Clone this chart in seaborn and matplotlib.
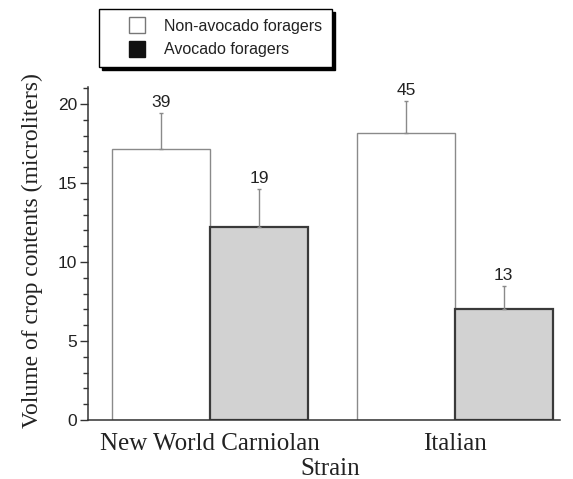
import numpy as np
import pandas as pd
import seaborn as sns
import matplotlib.pyplot as plt
from matplotlib.lines import Line2D
from matplotlib.ticker import MultipleLocator

# Crop volume (microliters) by honey bee strain and forager type
strains = ["New World Carniolan", "Italian"]
groups = ["Non-avocado foragers", "Avocado foragers"]
non_avocado_mean = [17.15, 18.15]
avocado_mean = [12.2, 7.0]
non_avocado_err = [2.28, 2.03]
avocado_err = [2.4, 1.5]
non_avocado_n = [39, 45]
avocado_n = [19, 13]

df = pd.DataFrame({
    "strain": strains * 2,
    "group": [groups[0]] * 2 + [groups[1]] * 2,
    "volume": non_avocado_mean + avocado_mean,
    "err": non_avocado_err + avocado_err,
    "n": non_avocado_n + avocado_n,
})

sns.set_style("ticks")
SERIF = ["Liberation Serif", "DejaVu Serif"]
SANS = ["Liberation Sans", "DejaVu Sans"]
plt.rcParams["font.family"] = SANS
TXT = "#222222"

fig = plt.figure(figsize=(5.73, 4.79), dpi=100)
ax = fig.add_axes([88 / 573, 1 - 420 / 479, 472 / 573, 333 / 479])

sns.barplot(
    data=df, x="strain", y="volume", hue="group", order=strains, hue_order=groups,
    palette={groups[0]: "white", groups[1]: "#d2d2d2"},
    errorbar=None, width=0.8, legend=False, ax=ax, zorder=2,
)

# Style each bar and add one-sided error bars plus sample sizes
bars = sorted(ax.patches, key=lambda p: p.get_x())
rows = []
for s in strains:
    for g in groups:
        rows.append(df[(df.strain == s) & (df.group == g)].iloc[0])
for bar, row in zip(bars, rows):
    if row.group == groups[0]:
        bar.set_edgecolor("#8a8a8a")
        bar.set_linewidth(1.0)
    else:
        bar.set_edgecolor("#3a3a3a")
        bar.set_linewidth(1.6)
    xc = bar.get_x() + bar.get_width() / 2
    h = bar.get_height()
    ax.errorbar([xc], [h], yerr=[[0], [row.err]], fmt="none", ecolor="#8a8a8a",
                elinewidth=1.0, capsize=1.5, capthick=1.0, zorder=3)
    ax.annotate(str(int(row.n)), (xc, h + row.err), xytext=(0, 2),
                textcoords="offset points", ha="center", va="bottom",
                fontsize=12.5, color=TXT, family=SANS)

ax.set_xlim(-0.5, 1.43)
ax.set_ylim(0, 21.07)
ax.yaxis.set_major_locator(MultipleLocator(5))
ax.yaxis.set_minor_locator(MultipleLocator(1))
ax.tick_params(axis="y", which="major", length=6, width=1, color="#333333",
               labelsize=12.5, labelcolor=TXT, pad=2)
ax.tick_params(axis="y", which="minor", length=3.5, width=1, color="#333333")
ax.tick_params(axis="x", length=0, pad=9, labelsize=18, labelcolor=TXT)
for lab in ax.get_xticklabels():
    lab.set_family(SERIF)
for lab in ax.get_yticklabels():
    lab.set_family(SANS)

sns.despine(ax=ax)
for sp in ("left", "bottom"):
    ax.spines[sp].set_color("#333333")
    ax.spines[sp].set_linewidth(1.1)

ax.set_xlabel("Strain", fontsize=18, family=SERIF, color=TXT)
ax.xaxis.set_label_coords(0.513, -0.115)
ax.set_ylabel("Volume of crop contents (microliters)", fontsize=17,
              family=SERIF, color=TXT)
ax.yaxis.set_label_coords(-0.095, 0.51)

# Legend above the plot with a solid drop shadow
handles = [
    Line2D([], [], ls="none", marker="s", markersize=11, markerfacecolor="white",
           markeredgecolor="#777777", markeredgewidth=1.0),
    Line2D([], [], ls="none", marker="s", markersize=11, markerfacecolor="#111111",
           markeredgecolor="#111111", markeredgewidth=1.0),
]
leg = fig.legend(
    handles, groups, loc="upper left", bbox_to_anchor=(99 / 573, 1 - 9 / 479),
    borderaxespad=0, frameon=True, fancybox=False, framealpha=1,
    edgecolor="black", facecolor="white",
    handlelength=3.5, handletextpad=0.0, borderpad=0.6, labelspacing=0.55,
    shadow={"facecolor": "black", "edgecolor": "black", "alpha": 1},
    prop={"family": SANS, "size": 11.5},
)
leg.get_frame().set_linewidth(1.0)
for t in leg.get_texts():
    t.set_color(TXT)

fig.savefig("out.png", dpi=100)
